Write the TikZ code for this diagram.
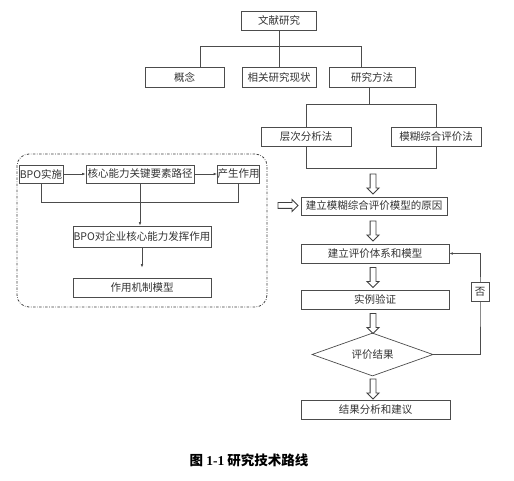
\documentclass[tikz,border=0pt]{standalone}
\usepackage{fontspec}
\setmainfont{Noto Sans CJK SC}
\newfontfamily\latinserif{Liberation Serif}
\usepackage{tikz}
\usetikzlibrary{arrows.meta, shapes.geometric, shapes.arrows, calc}

\begin{document}
\begin{tikzpicture}[x=1pt, y=-1pt,
  box/.style={draw=black!70, line width=0.7pt, minimum height=19pt, inner sep=1pt, text=black!80, font=\fontsize{10.5}{12}\selectfont},
  line/.style={draw=black!70, line width=0.7pt},
  fat/.style={single arrow, draw=black!75, line width=0.9pt, minimum height=20pt, minimum width=11pt, inner sep=2.5pt, single arrow head extend=3pt},
  group/.style={draw=black!75, line width=0.8pt, rounded corners=12pt, dash pattern=on 2.5pt off 1.5pt on 0.6pt off 1.5pt},
  >={Latex[length=3.5pt,width=2.6pt]}
]
\useasboundingbox[fill=white] (0,0) rectangle (514,481);

% literature tree
\node[box, minimum width=75pt] (lit) at (279,20.5) {文献研究};
\node[box, minimum width=79pt, minimum height=20pt] (concept) at (184.5,77) {概念};
\node[box, minimum width=74pt, minimum height=20pt] (status) at (279,77) {相关研究现状};
\node[box, minimum width=86pt, minimum height=20pt] (method) at (372,77) {研究方法};
\node[box, minimum width=90pt] (ahp) at (306,136.5) {层次分析法};
\node[box, minimum width=90pt] (fce) at (436,136.5) {模糊综合评价法};

\draw[line] (lit.south) -- (status.north);
\draw[line] ([xshift=15.5pt]concept.north) -- ++(0,-20) -| ([xshift=-11pt]method.north);
\draw[line] ([xshift=-3pt]method.south) -- ++(0,18);
\draw[line] (ahp.north) -- ++(0,-22) -| (fce.north);
\draw[line] (ahp.south) -- ++(0,22) -| (fce.south);

% main flow
\node[box, minimum width=146pt, minimum height=18pt] (reason) at (374,206) {建立模糊综合评价模型的原因};
\node[box, minimum width=148pt] (system) at (375,253.5) {建立评价体系和模型};
\node[box, minimum width=148pt] (verify) at (375,299.5) {实例验证};
\node[box, diamond, aspect=2.8, minimum width=121pt, minimum height=43pt] (result) at (372.5,354.5) {评价结果};
\node[box, minimum width=149pt] (analysis) at (375.5,409.5) {结果分析和建议};

\node[fat, shape border rotate=270] (f1) at (373,182.5) {};
\node[fat, shape border rotate=270] (f2) at (373,229.5) {};
\node[fat, shape border rotate=270] (f3) at (373,276) {};
\node[fat, shape border rotate=270] (f4) at (373,322) {};
\node[fat, shape border rotate=270] (f5) at (373,387.5) {};

\coordinate (back) at (480,300);
\draw[line, ->] (result.east) -| (back) |- (system.east);
\node[box, fill=white, minimum width=18pt, minimum height=19pt, inner sep=0pt] (no) at (480,291.5) {否};

% BPO group
\node[group, minimum width=250pt, minimum height=153pt] (group) at (142,230.5) {};
\node[box, minimum width=44pt, minimum height=18pt, inner sep=0pt] (bpo) at (41,174) {BPO实施};
\node[box, minimum width=108pt, minimum height=18pt] (path) at (140,174) {核心能力关键要素路径};
\node[box, minimum width=41pt, minimum height=18pt, inner sep=0pt] (effect) at (238.5,174) {产生作用};
\node[box, minimum width=138pt, minimum height=21pt, inner sep=0pt] (role) at (142,236.5) {BPO对企业核心能力发挥作用};
\node[box, minimum width=138pt] (model) at (142,287.5) {作用机制模型};

\draw[line, ->] (bpo) -- (path);
\draw[line, ->] (path) -- (effect);
\draw[line] (bpo.south) -- ++(0,19) -| (effect.south);
\draw[line, ->] (path.south) -- (path.south |- role.north);
\draw[line, ->, shorten >=10pt] (role.south) -- (model.north);

\node[fat] (f0) at (286.5,205.5) {};

\node[font=\bfseries\fontsize{13.5}{15}\selectfont] (cap) at (249,460) {图 {\latinserif 1-1} 研究技术路线};
\end{tikzpicture}
\end{document}
